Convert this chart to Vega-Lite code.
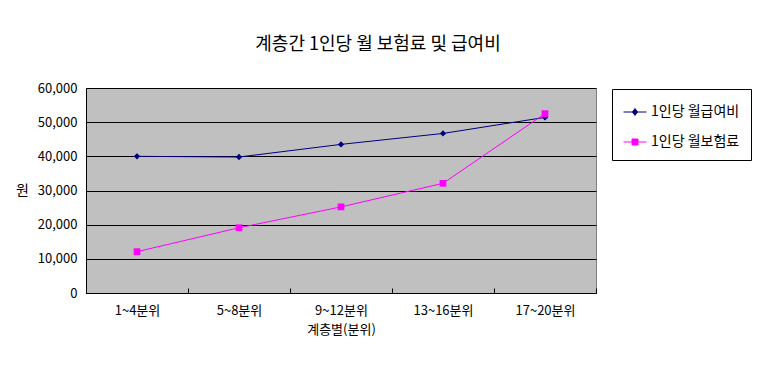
{
  "$schema": "https://vega.github.io/schema/vega-lite/v6.json",
  "width": 510,
  "height": 205,
  "autosize": {"type": "none"},
  "padding": {"left": 86, "top": 88, "right": 169, "bottom": 81},
  "background": "white",
  "title": {
    "text": "계층간 1인당 월 보험료 및 급여비",
    "font": "Noto Sans CJK KR",
    "fontSize": 18,
    "fontWeight": "normal",
    "color": "black",
    "anchor": "middle",
    "frame": "group",
    "dx": 37,
    "offset": 28
  },
  "config": {
    "view": {"fill": "#C0C0C0", "stroke": "#808080", "strokeWidth": 1},
    "font": "Noto Sans CJK KR"
  },
  "data": {
    "values": [
      {"계층": "1~4분위", "series": "1인당 월급여비", "value": 40000},
      {"계층": "5~8분위", "series": "1인당 월급여비", "value": 39800},
      {"계층": "9~12분위", "series": "1인당 월급여비", "value": 43500},
      {"계층": "13~16분위", "series": "1인당 월급여비", "value": 46700},
      {"계층": "17~20분위", "series": "1인당 월급여비", "value": 51400},
      {"계층": "1~4분위", "series": "1인당 월보험료", "value": 12100},
      {"계층": "5~8분위", "series": "1인당 월보험료", "value": 19100},
      {"계층": "9~12분위", "series": "1인당 월보험료", "value": 25200},
      {"계층": "13~16분위", "series": "1인당 월보험료", "value": 32100},
      {"계층": "17~20분위", "series": "1인당 월보험료", "value": 52500}
    ]
  },
  "encoding": {
    "x": {
      "field": "계층",
      "type": "nominal",
      "sort": null,
      "scale": {"paddingInner": 0, "paddingOuter": 0},
      "axis": {
        "title": "계층별(분위)",
        "titleFont": "Noto Sans CJK KR",
        "titleFontSize": 13,
        "titleFontWeight": "normal",
        "titleColor": "black",
        "titlePadding": 6,
        "labelAngle": 0,
        "labelFontSize": 13,
        "labelColor": "black",
        "labelPadding": 16,
        "tickBand": "extent",
        "tickSize": -5,
        "tickColor": "black",
        "domainColor": "black",
        "grid": false
      }
    },
    "y": {
      "field": "value",
      "type": "quantitative",
      "scale": {"domain": [0, 60000], "nice": false},
      "axis": {
        "title": "원",
        "titleAngle": 0,
        "titleX": -64,
        "titleY": 102,
        "titleAlign": "center",
        "titleBaseline": "middle",
        "titleFontSize": 14,
        "titleFontWeight": "normal",
        "titleColor": "black",
        "values": [0, 10000, 20000, 30000, 40000, 50000, 60000],
        "format": ",d",
        "labelFontSize": 13,
        "labelColor": "black",
        "labelPadding": 9,
        "ticks": false,
        "grid": true,
        "gridColor": "black",
        "gridOpacity": 1,
        "gridWidth": 1,
        "domainColor": "black"
      }
    },
    "color": {
      "field": "series",
      "type": "nominal",
      "scale": {"domain": ["1인당 월급여비", "1인당 월보험료"], "range": ["#000080", "#FF00FF"]},
      "legend": {
        "title": null,
        "orient": "none",
        "legendX": 526,
        "legendY": 1,
        "fillColor": "white",
        "strokeColor": "black",
        "padding": 11,
        "rowPadding": 11,
        "labelFontSize": 14,
        "labelColor": "black",
        "labelOffset": 4,
        "symbolSize": 529,
        "symbolStrokeWidth": 1,
        "encode": {
          "symbols": {
            "update": {
              "shape": {"signal": "datum.value === '1인당 월급여비' ? 'M-1,0H1M0,-0.3L0.22,0L0,0.3L-0.22,0Z' : 'M-1,0H1M-0.26,-0.26H0.26V0.26H-0.26Z'"},
              "fill": {"signal": "datum.value === '1인당 월급여비' ? '#000080' : '#FF00FF'"},
              "stroke": {"signal": "datum.value === '1인당 월급여비' ? '#000080' : '#FF00FF'"},
              "fillOpacity": {"value": 1},
              "strokeOpacity": {"value": 1},
              "opacity": {"value": 1}
            }
          }
        }
      }
    }
  },
  "layer": [
    {"mark": {"type": "line", "strokeWidth": 1}},
    {
      "transform": [{"filter": "datum.series === '1인당 월급여비'"}],
      "mark": {"type": "point", "filled": true, "opacity": 1, "shape": "diamond", "size": 40}
    },
    {
      "transform": [{"filter": "datum.series === '1인당 월보험료'"}],
      "mark": {"type": "point", "filled": true, "opacity": 1, "shape": "square", "size": 45}
    }
  ]
}
